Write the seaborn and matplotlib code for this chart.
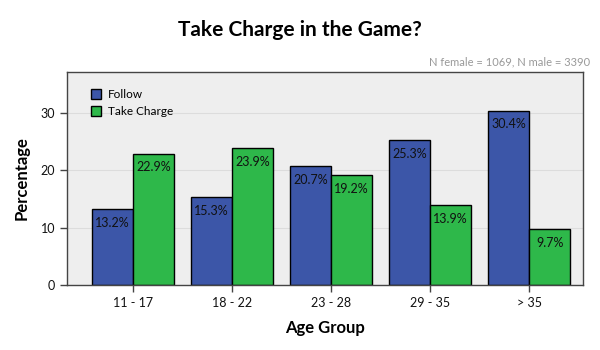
import matplotlib
matplotlib.use("Agg")
import matplotlib.pyplot as plt
import seaborn as sns
import pandas as pd

age_groups = ["11 - 17", "18 - 22", "23 - 28", "29 - 35", "> 35"]
follow = [13.2, 15.3, 20.7, 25.3, 30.4]
take_charge = [22.9, 23.9, 19.2, 13.9, 9.7]
series_names = ["Follow", "Take Charge"]
colors = ["#3c56a8", "#2eb84a"]

df = pd.DataFrame({
    "Age Group": age_groups * 2,
    "Percentage": follow + take_charge,
    "Series": [series_names[0]] * len(age_groups) + [series_names[1]] * len(age_groups),
})

sns.set_style("white")
plt.rcParams["font.family"] = ["Lato", "DejaVu Sans"]
plt.rcParams["text.color"] = "black"
plt.rcParams["axes.labelcolor"] = "black"

fig = plt.figure(figsize=(6, 3.5), dpi=100)
ax = fig.add_axes([0.1117, 0.1857, 0.86, 0.6086])
sns.barplot(data=df, x="Age Group", y="Percentage", hue="Series",
            palette=colors, width=0.83, gap=0, edgecolor="black",
            linewidth=1.0, ax=ax, saturation=1)

ax.set_facecolor("#eeeeee")
ax.set_ylim(0, 37.2)
ax.set_xlim(-0.667, 4.545)
ax.set_yticks([0, 10, 20, 30])
ax.yaxis.grid(True, color="#dcdcdc", linewidth=0.8)
ax.set_axisbelow(True)
for s in ax.spines.values():
    s.set_color("#444444")
    s.set_linewidth(1.0)
ax.tick_params(axis="both", which="both", direction="out", length=5,
               width=1.0, color="#444444", labelsize=9, labelcolor="#111111",
               left=True, bottom=True)

for cont in ax.containers:
    labels = [f"{v:.1f}%" for v in cont.datavalues]
    ax.bar_label(cont, labels=labels, padding=-14, fontsize=9, color="#111111")

ax.set_xlabel("Age Group", fontsize=12, fontweight="bold", labelpad=8, color="black")
ax.set_ylabel("Percentage", fontsize=12, fontweight="bold", labelpad=8, color="black")

leg = ax.legend(loc="upper left", frameon=False, fontsize=8.5,
                handlelength=0.9, handleheight=0.9, handletextpad=0.6,
                labelspacing=0.5, bbox_to_anchor=(0.025, 0.97))

fig.text(0.5, 0.915, "Take Charge in the Game?", ha="center", va="center",
         fontsize=15, fontweight="bold", color="black")
fig.text(0.983, 0.822, "N female = 1069, N male = 3390", ha="right",
         va="center", fontsize=8, color="#999999")

fig.savefig("out.png", dpi=100)
